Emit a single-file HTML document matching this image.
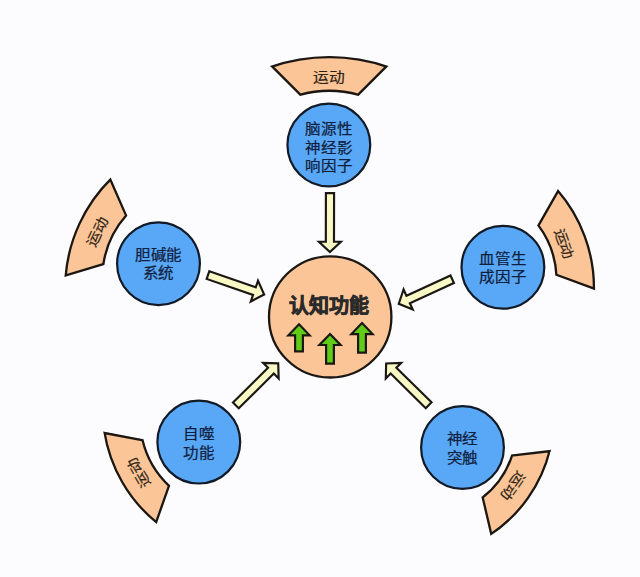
<!DOCTYPE html>
<html lang="zh-CN"><head><meta charset="utf-8">
<style>
html,body{margin:0;padding:0;background:#fcfbfd;}
body{width:640px;height:577px;overflow:hidden;font-family:"Liberation Sans",sans-serif;}
svg{display:block;}
.t1{font-size:15.5px;fill:#10203c;stroke:#10203c;stroke-width:0.25px;}
.t2{font-size:15px;fill:#2e2214;stroke:#2e2214;stroke-width:0.2px;}
.tc{font-size:20px;font-weight:bold;fill:#2a2a2a;stroke:#2a2a2a;stroke-width:0.7px;}
</style></head><body>
<svg width="640" height="577" viewBox="0 0 640 577">
<rect width="640" height="577" fill="#fcfbfd"/>
<clipPath id="c0"><path d="M270,66 A180.53,180.53 0 0 1 388.5,66 L358.5,96 A108.95,108.95 0 0 0 300,96 Z"/></clipPath><path d="M270,66 A180.53,180.53 0 0 1 388.5,66 L358.5,96 A108.95,108.95 0 0 0 300,96 Z" fill="#fbc597" stroke="#1a1714" stroke-width="4.6" clip-path="url(#c0)"/><text transform="translate(328.35,77.4) rotate(0.00) scale(1.05,0.93)" x="0.5" y="4.9" text-anchor="middle" class="t2">运动</text>
<clipPath id="c1"><path d="M64.4,277.1 A155.55,155.55 0 0 1 110.7,177.6 L127.4,215.7 A94.18,94.18 0 0 0 104.4,264.9 Z"/></clipPath><path d="M64.4,277.1 A155.55,155.55 0 0 1 110.7,177.6 L127.4,215.7 A94.18,94.18 0 0 0 104.4,264.9 Z" fill="#fbc597" stroke="#1a1714" stroke-width="4.6" clip-path="url(#c1)"/><text transform="translate(97.5,232.2) rotate(-65.05) scale(1.05,0.93)" x="0.5" y="4.9" text-anchor="middle" class="t2">运动</text>
<clipPath id="c2"><path d="M557.9,189.1 A150.06,150.06 0 0 1 595.1,290.2 L555.3,275.6 A90.48,90.48 0 0 0 537.1,225.6 Z"/></clipPath><path d="M557.9,189.1 A150.06,150.06 0 0 1 595.1,290.2 L555.3,275.6 A90.48,90.48 0 0 0 537.1,225.6 Z" fill="#fbc597" stroke="#1a1714" stroke-width="4.6" clip-path="url(#c2)"/><text transform="translate(563.2,243.4) rotate(69.80) scale(1.05,0.93)" x="0.5" y="4.9" text-anchor="middle" class="t2">运动</text>
<clipPath id="c3"><path d="M156.7,524 A147.50,147.50 0 0 1 103.2,431.6 L143.5,439.3 A91.15,91.15 0 0 0 170.3,485.5 Z"/></clipPath><path d="M156.7,524 A147.50,147.50 0 0 1 103.2,431.6 L143.5,439.3 A91.15,91.15 0 0 0 170.3,485.5 Z" fill="#fbc597" stroke="#1a1714" stroke-width="4.6" clip-path="url(#c3)"/><text transform="translate(139.1,472.9) rotate(-120.07) scale(1.05,0.93)" x="0.5" y="4.9" text-anchor="middle" class="t2">运动</text>
<clipPath id="c4"><path d="M551.1,449.8 A143.35,143.35 0 0 1 490.5,535.8 L481.4,497.1 A86.46,86.46 0 0 0 511.2,454.5 Z"/></clipPath><path d="M551.1,449.8 A143.35,143.35 0 0 1 490.5,535.8 L481.4,497.1 A86.46,86.46 0 0 0 511.2,454.5 Z" fill="#fbc597" stroke="#1a1714" stroke-width="4.6" clip-path="url(#c4)"/><text transform="translate(512.8,485.6) rotate(125.17) scale(1.05,0.93)" x="0.5" y="4.9" text-anchor="middle" class="t2">运动</text>
<g transform="translate(330,192.1) rotate(90.1)"><path d="M1.07,-4.08 L49.67,-4.08 L49.67,-11.00 L59.98,0.00 L49.67,11.00 L49.67,4.08 L1.07,4.08 Z" fill="#f9f9c6" stroke="#1a1714" stroke-width="2.15" stroke-linejoin="miter" stroke-miterlimit="10"/></g>
<g transform="translate(207,274.7) rotate(19.1)"><path d="M1.07,-4.08 L50.17,-4.08 L50.17,-11.00 L60.48,0.00 L50.17,11.00 L50.17,4.08 L1.07,4.08 Z" fill="#f9f9c6" stroke="#1a1714" stroke-width="2.15" stroke-linejoin="miter" stroke-miterlimit="10"/></g>
<g transform="translate(453.2,278.8) rotate(155.35)"><path d="M1.07,-4.08 L49.57,-4.08 L49.57,-11.00 L59.88,0.00 L49.57,11.00 L49.57,4.08 L1.07,4.08 Z" fill="#f9f9c6" stroke="#1a1714" stroke-width="2.15" stroke-linejoin="miter" stroke-miterlimit="10"/></g>
<g transform="translate(235.1,406.2) rotate(-44.8)"><path d="M1.07,-4.08 L50.47,-4.08 L50.47,-11.00 L60.78,0.00 L50.47,11.00 L50.47,4.08 L1.07,4.08 Z" fill="#f9f9c6" stroke="#1a1714" stroke-width="2.15" stroke-linejoin="miter" stroke-miterlimit="10"/></g>
<g transform="translate(429.4,406.0) rotate(-135.45)"><path d="M1.07,-4.08 L50.38,-4.08 L50.38,-11.00 L60.68,0.00 L50.38,11.00 L50.38,4.08 L1.07,4.08 Z" fill="#f9f9c6" stroke="#1a1714" stroke-width="2.15" stroke-linejoin="miter" stroke-miterlimit="10"/></g>
<ellipse cx="330.2" cy="316.9" rx="61.2" ry="60.6" fill="#fbc597" stroke="#1a1714" stroke-width="2.3"/>
<text x="329.2" y="313" text-anchor="middle" class="tc">认知功能</text>
<path d="M299.00,324.30 L309.60,335.30 L302.90,335.30 L302.90,351.40 L295.10,351.40 L295.10,335.30 L288.40,335.30 Z" fill="#60cc18" stroke="#1a1714" stroke-width="2.2" stroke-linejoin="miter"/>
<path d="M330.00,334.00 L340.60,345.00 L333.90,345.00 L333.90,363.60 L326.10,363.60 L326.10,345.00 L319.40,345.00 Z" fill="#60cc18" stroke="#1a1714" stroke-width="2.2" stroke-linejoin="miter"/>
<path d="M362.00,323.10 L372.60,334.10 L365.90,334.10 L365.90,352.65 L358.10,352.65 L358.10,334.10 L351.40,334.10 Z" fill="#60cc18" stroke="#1a1714" stroke-width="2.2" stroke-linejoin="miter"/>
<circle cx="328.85" cy="145" r="41.4" fill="#59a8f8" stroke="#121a26" stroke-width="2.2"/><text transform="translate(0,128.30) scale(1,0.92) translate(0,-128.30)" x="328.85" y="134.60" text-anchor="middle" class="t1">脑源性</text><text transform="translate(0,147.00) scale(1,0.92) translate(0,-147.00)" x="328.85" y="153.30" text-anchor="middle" class="t1">神经影</text><text transform="translate(0,165.70) scale(1,0.92) translate(0,-165.70)" x="328.85" y="172.00" text-anchor="middle" class="t1">响因子</text>
<circle cx="158.5" cy="263.8" r="41.4" fill="#59a8f8" stroke="#121a26" stroke-width="2.2"/><text transform="translate(0,253.80) scale(1,0.92) translate(0,-253.80)" x="158.5" y="260.10" text-anchor="middle" class="t1">胆碱能</text><text transform="translate(0,272.60) scale(1,0.92) translate(0,-272.60)" x="158.5" y="278.90" text-anchor="middle" class="t1">系统</text>
<circle cx="502.9" cy="267.2" r="41.4" fill="#59a8f8" stroke="#121a26" stroke-width="2.2"/><text transform="translate(0,257.90) scale(1,0.92) translate(0,-257.90)" x="502.9" y="264.20" text-anchor="middle" class="t1">血管生</text><text transform="translate(0,276.50) scale(1,0.92) translate(0,-276.50)" x="502.9" y="282.80" text-anchor="middle" class="t1">成因子</text>
<circle cx="198.8" cy="442.1" r="41.4" fill="#59a8f8" stroke="#121a26" stroke-width="2.2"/><text transform="translate(0,433.10) scale(1,0.92) translate(0,-433.10)" x="198.8" y="439.40" text-anchor="middle" class="t1">自噬</text><text transform="translate(0,452.10) scale(1,0.92) translate(0,-452.10)" x="198.8" y="458.40" text-anchor="middle" class="t1">功能</text>
<circle cx="462.5" cy="447.5" r="41.4" fill="#59a8f8" stroke="#121a26" stroke-width="2.2"/><text transform="translate(0,438.70) scale(1,0.92) translate(0,-438.70)" x="462.5" y="445.00" text-anchor="middle" class="t1">神经</text><text transform="translate(0,456.90) scale(1,0.92) translate(0,-456.90)" x="462.5" y="463.20" text-anchor="middle" class="t1">突触</text>
</svg>
</body></html>
